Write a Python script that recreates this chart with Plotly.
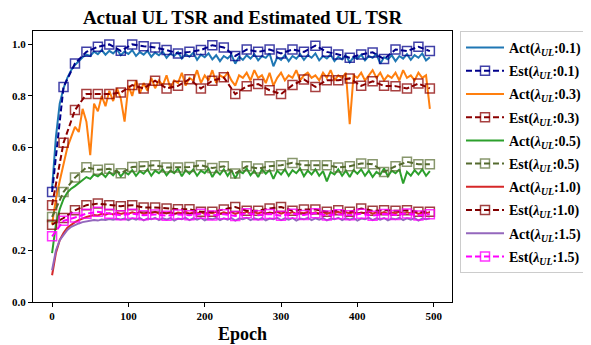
import plotly.graph_objects as go

# ---------------- data ----------------
act_epochs = list(range(0, 500, 5))
est_epochs = list(range(0, 500, 15))

act_01 = [0.44, 0.64, 0.77, 0.83, 0.87, 0.90, 0.92, 0.935, 0.95, 0.96,
          0.955, 0.972, 0.962, 0.978, 0.96, 0.975, 0.965, 0.98, 0.958, 0.972,
          0.963, 0.978, 0.955, 0.97, 0.96, 0.975, 0.952, 0.968, 0.958, 0.972,
          0.948, 0.965, 0.955, 0.97, 0.945, 0.962, 0.952, 0.968, 0.94, 0.96,
          0.95, 0.965, 0.942, 0.958, 0.935, 0.955, 0.945, 0.96, 0.925, 0.952,
          0.94, 0.958, 0.945, 0.962, 0.938, 0.955, 0.948, 0.965, 0.915, 0.95,
          0.94, 0.958, 0.935, 0.955, 0.945, 0.962, 0.94, 0.958, 0.948, 0.965,
          0.938, 0.955, 0.945, 0.96, 0.935, 0.952, 0.942, 0.958, 0.93, 0.95,
          0.945, 0.96, 0.938, 0.955, 0.948, 0.962, 0.925, 0.95, 0.942, 0.958,
          0.935, 0.955, 0.945, 0.962, 0.94, 0.958, 0.948, 0.965, 0.938, 0.95]

act_03 = [0.30, 0.40, 0.47, 0.53, 0.60, 0.64, 0.68, 0.66, 0.75, 0.70,
          0.57, 0.77, 0.74, 0.80, 0.76, 0.82, 0.78, 0.83, 0.79, 0.70,
          0.84, 0.80, 0.86, 0.81, 0.85, 0.82, 0.87, 0.83, 0.86, 0.84,
          0.88, 0.83, 0.86, 0.85, 0.89, 0.84, 0.87, 0.86, 0.90, 0.85,
          0.88, 0.86, 0.90, 0.85, 0.88, 0.87, 0.89, 0.86, 0.84, 0.88,
          0.87, 0.89, 0.86, 0.90, 0.87, 0.88, 0.85, 0.89, 0.84, 0.87,
          0.89, 0.86, 0.88, 0.87, 0.90, 0.86, 0.88, 0.89, 0.87, 0.88,
          0.86, 0.89, 0.87, 0.90, 0.86, 0.88, 0.87, 0.89, 0.69, 0.88,
          0.87, 0.89, 0.86, 0.88, 0.90, 0.87, 0.89, 0.86, 0.88, 0.87,
          0.89, 0.86, 0.90, 0.87, 0.88, 0.86, 0.89, 0.87, 0.88, 0.75]

act_05 = [0.19, 0.30, 0.36, 0.40, 0.425, 0.44, 0.45, 0.462, 0.475, 0.485,
          0.478, 0.495, 0.488, 0.50, 0.485, 0.505, 0.492, 0.51, 0.488, 0.505,
          0.495, 0.512, 0.49, 0.508, 0.498, 0.515, 0.49, 0.51, 0.50, 0.515,
          0.492, 0.51, 0.50, 0.518, 0.488, 0.512, 0.498, 0.515, 0.49, 0.51,
          0.50, 0.518, 0.485, 0.51, 0.495, 0.515, 0.49, 0.512, 0.48, 0.508,
          0.50, 0.518, 0.492, 0.51, 0.485, 0.515, 0.498, 0.512, 0.478, 0.51,
          0.495, 0.515, 0.49, 0.512, 0.50, 0.518, 0.488, 0.51, 0.495, 0.515,
          0.49, 0.508, 0.468, 0.505, 0.495, 0.515, 0.49, 0.51, 0.485, 0.512,
          0.498, 0.515, 0.49, 0.51, 0.485, 0.505, 0.495, 0.518, 0.488, 0.51,
          0.50, 0.515, 0.46, 0.505, 0.49, 0.512, 0.495, 0.515, 0.49, 0.508]

act_10 = [0.104, 0.19, 0.24, 0.268, 0.288, 0.30, 0.31, 0.318, 0.325, 0.33,
          0.334, 0.338, 0.336, 0.342, 0.339, 0.344, 0.340, 0.346, 0.342, 0.345,
          0.343, 0.348, 0.344, 0.349, 0.342, 0.347, 0.345, 0.350, 0.343, 0.348,
          0.344, 0.349, 0.342, 0.347, 0.345, 0.350, 0.343, 0.348, 0.344, 0.349,
          0.342, 0.347, 0.345, 0.350, 0.343, 0.348, 0.344, 0.349, 0.342, 0.347,
          0.345, 0.350, 0.343, 0.348, 0.344, 0.349, 0.342, 0.347, 0.345, 0.350,
          0.343, 0.348, 0.344, 0.349, 0.342, 0.347, 0.345, 0.350, 0.343, 0.348,
          0.344, 0.349, 0.342, 0.347, 0.345, 0.350, 0.343, 0.348, 0.344, 0.349,
          0.342, 0.347, 0.345, 0.350, 0.343, 0.348, 0.344, 0.349, 0.342, 0.347,
          0.345, 0.350, 0.343, 0.348, 0.344, 0.349, 0.342, 0.347, 0.345, 0.348]

act_15 = [0.123, 0.20, 0.24, 0.262, 0.28, 0.292, 0.30, 0.305, 0.31, 0.313,
          0.315, 0.318, 0.316, 0.32, 0.318, 0.322, 0.319, 0.323, 0.32, 0.324,
          0.318, 0.325, 0.32, 0.326, 0.317, 0.324, 0.321, 0.327, 0.318, 0.325,
          0.32, 0.326, 0.316, 0.324, 0.321, 0.327, 0.318, 0.325, 0.32, 0.326,
          0.317, 0.324, 0.321, 0.327, 0.318, 0.325, 0.32, 0.326, 0.316, 0.324,
          0.321, 0.327, 0.318, 0.325, 0.32, 0.326, 0.317, 0.324, 0.321, 0.327,
          0.318, 0.325, 0.32, 0.326, 0.316, 0.324, 0.321, 0.327, 0.318, 0.325,
          0.32, 0.326, 0.317, 0.324, 0.321, 0.327, 0.318, 0.325, 0.32, 0.326,
          0.316, 0.324, 0.321, 0.327, 0.318, 0.325, 0.32, 0.326, 0.317, 0.324,
          0.321, 0.327, 0.318, 0.325, 0.32, 0.326, 0.316, 0.324, 0.321, 0.325]

est_01 = [0.427, 0.835, 0.926, 0.971, 0.991, 1.0, 0.975, 1.0, 0.993, 0.988,
          0.978, 0.965, 0.971, 0.978, 0.997, 0.988, 0.955, 0.98, 0.971, 0.98,
          0.965, 0.98, 0.971, 0.995, 0.971, 0.961, 0.948, 0.961, 0.969, 0.943,
          0.98, 0.974, 0.991, 0.974]

est_03 = [0.376, 0.618, 0.745, 0.807, 0.807, 0.807, 0.813, 0.842, 0.829, 0.859,
          0.829, 0.839, 0.865, 0.829, 0.859, 0.872, 0.807, 0.838, 0.846, 0.822,
          0.807, 0.842, 0.864, 0.835, 0.861, 0.861, 0.868, 0.839, 0.857, 0.839,
          0.838, 0.829, 0.848, 0.829]

est_05 = [0.33, 0.427, 0.483, 0.523, 0.513, 0.517, 0.50, 0.524, 0.527, 0.531,
          0.522, 0.522, 0.524, 0.531, 0.52, 0.527, 0.499, 0.527, 0.518, 0.527,
          0.531, 0.54, 0.531, 0.531, 0.531, 0.522, 0.527, 0.538, 0.535, 0.505,
          0.527, 0.544, 0.535, 0.535]

est_10 = [0.30, 0.326, 0.356, 0.376, 0.382, 0.376, 0.372, 0.376, 0.367, 0.367,
          0.363, 0.36, 0.36, 0.35, 0.35, 0.359, 0.369, 0.354, 0.354, 0.363,
          0.369, 0.354, 0.359, 0.359, 0.35, 0.356, 0.35, 0.363, 0.354, 0.356,
          0.354, 0.356, 0.35, 0.35]

est_15 = [0.255, 0.315, 0.328, 0.343, 0.35, 0.343, 0.337, 0.343, 0.337, 0.34,
          0.335, 0.34, 0.337, 0.343, 0.336, 0.341, 0.334, 0.345, 0.337, 0.342,
          0.335, 0.343, 0.338, 0.345, 0.336, 0.341, 0.337, 0.343, 0.335, 0.342,
          0.338, 0.344, 0.336, 0.341]

lambdas = ["0.1", "0.3", "0.5", "1.0", "1.5"]
act_series = [act_01, act_03, act_05, act_10, act_15]
est_series = [est_01, est_03, est_05, est_10, est_15]
act_colors = ["#1f77b4", "#ff7f0e", "#2ca02c", "#d62728", "#9467bd"]
est_line_colors = ["#00008b", "#8b0000", "#556b2f", "#800000", "#ff00ff"]
est_marker_colors = ["rgba(0,0,139,0.75)", "rgba(139,0,0,0.75)", "rgba(85,107,47,0.7)",
                     "rgba(128,0,0,0.75)", "rgba(255,0,255,0.8)"]

FONT = "Liberation Serif, Times New Roman, serif"

# page has an 8px body margin: figure is drawn 8px right/down
FIG_W, FIG_H = 583, 337
L, R, T, B = 25, 139, 23, 43
PLOT_W = FIG_W - L - R

fig = go.Figure()
for i, (lam, a, e, ac, elc, emc) in enumerate(zip(lambdas, act_series, est_series, act_colors,
                                                  est_line_colors, est_marker_colors)):
    fig.add_trace(go.Scatter(
        x=act_epochs, y=a, mode="lines",
        line=dict(color=ac, width=2),
        legendgroup=f"a{i}",
        name=f"<b>Act(<i>λ</i><sub><i>UL</i></sub>:{lam})</b>"))
    fig.add_trace(go.Scatter(
        x=est_epochs, y=e, mode="lines+markers",
        line=dict(color=elc, width=2, dash="6px,3px"),
        marker=dict(symbol="square-open", size=9, color=emc,
                    line=dict(color=emc, width=1.5)),
        legendgroup=f"e{i}",
        name=f"<b>Est(<i>λ</i><sub><i>UL</i></sub>:{lam})</b>"))

axis_common = dict(showline=True, mirror=True, linecolor="black", linewidth=1,
                   ticks="outside", ticklen=4, tickwidth=1, tickcolor="black",
                   showgrid=False, zeroline=False, automargin=False,
                   tickfont=dict(family=FONT, size=11, color="black", weight="bold"))

fig.update_layout(
    width=FIG_W, height=FIG_H,
    margin=dict(l=L, r=R, t=T, b=B, autoexpand=False),
    paper_bgcolor="white", plot_bgcolor="white",
    title=dict(text="<b>Actual UL TSR and Estimated UL TSR</b>",
               x=0.5, xref="paper", xanchor="center",
               y=1 - 9 / FIG_H, yref="container", yanchor="middle",
               font=dict(family=FONT, size=19, color="black")),
    xaxis=dict(range=[-25, 524], tickvals=[0, 100, 200, 300, 400, 500],
               title=dict(text="<b>Epoch</b>", font=dict(family=FONT, size=18, color="black"),
                          standoff=6),
               **axis_common),
    yaxis=dict(range=[0, 1.052], tickvals=[0.0, 0.2, 0.4, 0.6, 0.8, 1.0],
               tickformat=".1f", **axis_common),
    legend=dict(x=(452 - L) / PLOT_W, xref="paper", xanchor="left",
                y=1.0, yref="paper", yanchor="top",
                bordercolor="#cccccc", borderwidth=1, bgcolor="white",
                font=dict(family=FONT, size=14, color="black"),
                itemwidth=38, tracegroupgap=2),
    showlegend=True,
)

fig.write_html("out.html")
